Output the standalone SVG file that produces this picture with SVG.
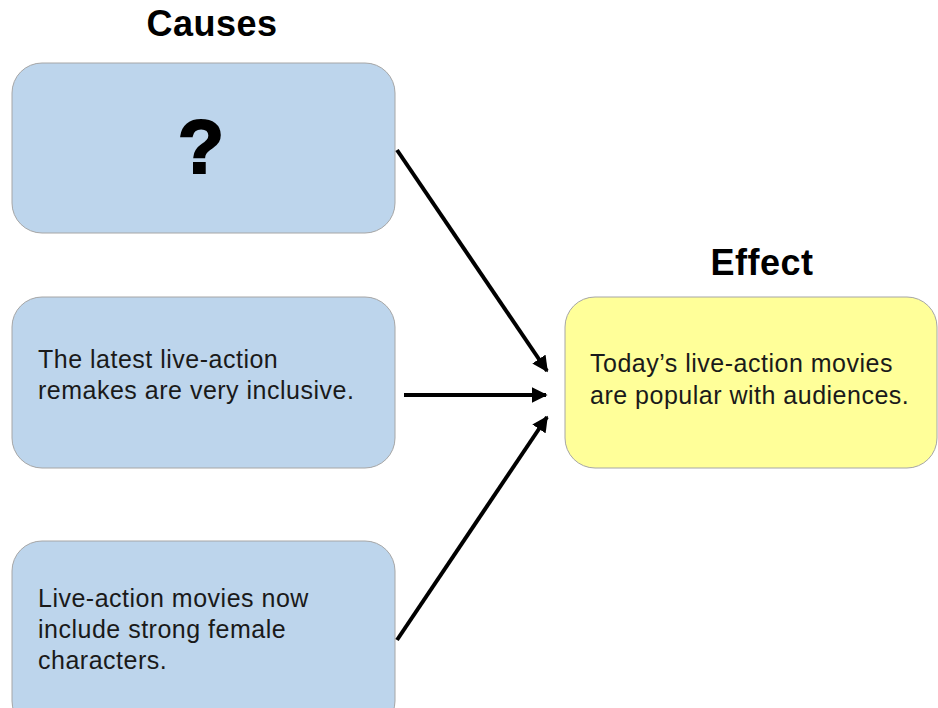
<svg xmlns="http://www.w3.org/2000/svg" width="938" height="708" viewBox="0 0 938 708">
<defs>
<style>
.cause{fill:#BDD5EC;stroke:#A6A6A6;stroke-width:1}
.effect{fill:#FFFF99;stroke:#A6A6A6;stroke-width:1}
.t{font-family:"Liberation Sans",Arial,sans-serif;font-size:25px;letter-spacing:0.5px;fill:#1a1a1a}
.h{font-family:"Liberation Sans",Arial,sans-serif;font-size:36px;font-weight:bold;letter-spacing:0.5px;fill:#000;text-anchor:middle}
.c{stroke:#000;stroke-width:4;fill:none;marker-end:url(#ah)}
</style>
<marker id="ah" viewBox="0 0 10 10" refX="9" refY="5" markerWidth="4" markerHeight="4" orient="auto" markerUnits="strokeWidth">
<path d="M0,0 L10,5 L0,10 z" fill="#000"/>
</marker>
</defs>
<rect width="938" height="708" fill="#fff"/>
<text class="h" x="212" y="36">Causes</text>
<text class="h" x="762" y="275">Effect</text>
<g id="cause1">
<rect class="cause" x="12" y="63" width="383" height="170" rx="30"/>
<text x="201" y="173" font-family="Liberation Sans,Arial,sans-serif" font-size="76" font-weight="bold" stroke="#000" stroke-width="2" text-anchor="middle">?</text>
</g>
<g id="cause2">
<rect class="cause" x="12" y="297" width="383" height="171" rx="30"/>
<text class="t" x="38" y="368">The latest live-action</text>
<text class="t" x="38" y="399">remakes are very inclusive.</text>
</g>
<g id="cause3">
<rect class="cause" x="12" y="541" width="383" height="190" rx="30"/>
<text class="t" x="38" y="607">Live-action movies now</text>
<text class="t" x="38" y="638">include strong female</text>
<text class="t" x="38" y="669">characters.</text>
</g>
<g id="effect">
<rect class="effect" x="565" y="297" width="372" height="171" rx="30"/>
<text class="t" x="590" y="372">Today’s live-action movies</text>
<text class="t" x="590" y="404">are popular with audiences.</text>
</g>
<g id="connectors">
<line class="c" x1="397" y1="150" x2="547" y2="371"/>
<line class="c" x1="404" y1="395" x2="546" y2="395"/>
<line class="c" x1="397" y1="640" x2="547" y2="417"/>
</g>
</svg>
